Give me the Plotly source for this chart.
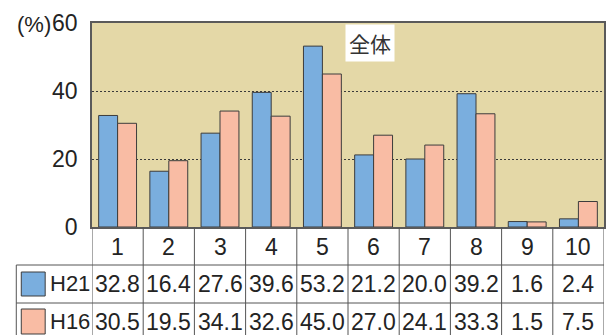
import plotly.graph_objects as go

# Survey items (1-10) and percentage by survey year
categories = [1, 2, 3, 4, 5, 6, 7, 8, 9, 10]
h21_values = [32.8, 16.4, 27.6, 39.6, 53.2, 21.2, 20.0, 39.2, 1.6, 2.4]
h16_values = [30.5, 19.5, 34.1, 32.6, 45.0, 27.0, 24.1, 33.3, 1.5, 7.5]
series_names = ["H21", "H16"]
y_ticks = [0, 20, 40, 60]

BLUE = "#7aaede"
PINK = "#f9bca4"
BG = "#e4d8a7"
EDGE = "#3c3c3c"
GRID_LINE = "#555555"
TXT = "#232323"
FONT = "Liberation Sans, Arial, sans-serif"

W, H = 614, 335
ML, MR, MT, MB = 92, 8, 23, 108
plot_w = W - ML - MR
plot_h = H - MT - MB


def py(px):
    """pixel row -> paper y"""
    return (H - MB - px) / plot_h


def px_x(px):
    """pixel column -> paper x"""
    return (px - ML) / plot_w


fig = go.Figure()
for name, vals, col in [(series_names[0], h21_values, BLUE), (series_names[1], h16_values, PINK)]:
    fig.add_trace(go.Bar(
        x=categories, y=vals, name=name,
        marker=dict(color=col, line=dict(color=EDGE, width=1)),
        showlegend=False, hoverinfo="skip",
    ))

shapes = []
annotations = []

# Table: row boundaries (pixel rows)
row1_bot = 265
row2_bot = 303
tbl_bot = 345
left_px = 16

# horizontal lines
shapes.append(dict(type="line", xref="paper", yref="paper", x0=px_x(left_px), x1=1,
                   y0=py(row1_bot), y1=py(row1_bot), line=dict(color=GRID_LINE, width=1)))
shapes.append(dict(type="line", xref="paper", yref="paper", x0=px_x(left_px), x1=1,
                   y0=py(row2_bot), y1=py(row2_bot), line=dict(color=GRID_LINE, width=1)))
# vertical lines between columns
for i in range(len(categories) + 1):
    xv = categories[0] - 0.5 + i
    shapes.append(dict(type="line", xref="x", yref="paper", x0=xv, x1=xv,
                       y0=0, y1=py(tbl_bot), line=dict(color=GRID_LINE, width=1)))
# left border of the series-label column
shapes.append(dict(type="line", xref="paper", yref="paper", x0=px_x(left_px), x1=px_x(left_px),
                   y0=py(row1_bot), y1=py(tbl_bot), line=dict(color=GRID_LINE, width=1)))

# colour swatches
for (y0p, y1p), col in [((272, 296), BLUE), ((309, 334), PINK)]:
    shapes.append(dict(type="rect", xref="paper", yref="paper",
                       x0=px_x(21), x1=px_x(45), y0=py(y1p), y1=py(y0p),
                       fillcolor=col, line=dict(color=EDGE, width=1)))

# category labels row
for c in categories:
    annotations.append(dict(x=c, y=py(246.5), xref="x", yref="paper", text=str(c),
                            showarrow=False, font=dict(size=23, color=TXT, family=FONT),
                            xanchor="center", yanchor="middle"))
# value rows
for name, vals, yc in [(series_names[0], h21_values, 283.5), (series_names[1], h16_values, 321.5)]:
    annotations.append(dict(x=px_x(70), y=py(yc), xref="paper", yref="paper", text=name,
                            showarrow=False, font=dict(size=22, color=TXT, family=FONT),
                            xanchor="center", yanchor="middle"))
    for c, v in zip(categories, vals):
        annotations.append(dict(x=c, y=py(yc), xref="x", yref="paper", text=f"{v:.1f}",
                                showarrow=False, font=dict(size=23, color=TXT, family=FONT),
                                xanchor="center", yanchor="middle"))

# unit label
annotations.append(dict(x=px_x(34), y=py(25), xref="paper", yref="paper", text="(%)",
                        showarrow=False, font=dict(size=22, color=TXT, family=FONT),
                        xanchor="center", yanchor="middle"))
# panel title
annotations.append(dict(x=px_x(371), y=py(43), xref="paper", yref="paper", text="全体",
                        showarrow=False, bgcolor="white", borderpad=3,
                        font=dict(size=21, color="#333333", family="Noto Sans CJK JP"),
                        xanchor="center", yanchor="middle"))

fig.update_layout(
    width=W, height=H,
    margin=dict(l=ML, r=MR, t=MT, b=MB),
    paper_bgcolor="white", plot_bgcolor=BG,
    barmode="group", bargap=0.26, bargroupgap=0,
    shapes=shapes, annotations=annotations,
    font=dict(family=FONT, color=TXT),
)
fig.update_xaxes(range=[0.5, 10.5], showticklabels=False, showgrid=False, zeroline=False,
                 showline=True, mirror=True, linecolor="#5a5a5a", linewidth=1.5, ticks="")
fig.update_yaxes(range=[0, 60], tickvals=y_ticks, showgrid=True, gridcolor="#3a3a3a",
                 griddash="2px,2px", gridwidth=1, zeroline=False,
                 showline=True, mirror=True, linecolor="#5a5a5a", linewidth=1.5,
                 ticks="", ticklabelstandoff=8,
                 tickfont=dict(size=23, color=TXT, family=FONT))

fig.write_html("out.html")
